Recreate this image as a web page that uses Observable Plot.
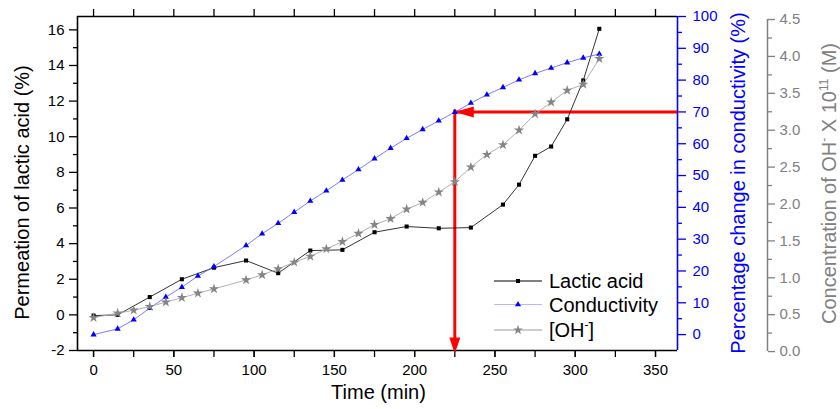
<!DOCTYPE html>
<html><head><meta charset="utf-8">
<script src="https://cdn.jsdelivr.net/npm/d3@7"></script>
<script src="https://cdn.jsdelivr.net/npm/@observablehq/plot@0.6"></script>
<style>
html,body{margin:0;padding:0;background:#fff;}
#chart{width:840px;height:409px;}
</style></head><body><div id="chart"></div>
<script>
// ---- data ----
const lacticTime = [0,15,35,55,75,95,115,135,155,175,195,215,235,255,265,275,285,295,305,315];
const lacticAcid = [-0.04,0,1.0,2.0,2.65,3.05,2.34,3.61,3.65,4.64,4.96,4.86,4.90,6.19,7.31,8.93,9.45,10.98,13.16,16.06];
const obsTime = [0,15,25,35,45,55,65,75,95,105,115,125,135,145,155,165,175,185,195,205,215,225,235,245,255,265,275,285,295,305,315];
const conductivity = [0,1.8,4.65,8.3,11.8,14.9,18.4,21.4,28.0,31.7,35.0,38.5,42.0,45.2,48.6,51.9,55.3,58.6,61.7,64.5,67.2,69.9,72.8,75.4,77.7,80.1,82.1,83.8,85.5,87.0,88.2];
const hydroxide = [0.46,0.52,0.56,0.61,0.67,0.73,0.79,0.85,0.97,1.04,1.12,1.21,1.29,1.39,1.49,1.60,1.72,1.80,1.93,2.02,2.16,2.30,2.50,2.67,2.80,3.00,3.22,3.38,3.54,3.62,3.97];
const xTickLabels = [0,50,100,150,200,250,300,350];
const xAllTicks = [0,25,50,75,100,125,150,175,200,225,250,275,300,325,350];
const leftTicks = [-2,0,2,4,6,8,10,12,14,16];
const leftMinor = [-1,1,3,5,7,9,11,13,15];
const blueTicks = [0,10,20,30,40,50,60,70,80,90,100];
const blueMinor = [5,15,25,35,45,55,65,75,85,95];
const grayTicks = [0,0.5,1,1.5,2,2.5,3,3.5,4,4.5];
const grayMinor = [0.25,0.75,1.25,1.75,2.25,2.75,3.25,3.75,4.25];
const markerTime = 225, markerConductivity = 70;
const legendLabels = ["Lactic acid","Conductivity","[OH"];

// ---- layout ----
const xDomain = [-10, 363.7];
const Y0 = -2, Y1 = 16.75;
const blueScale = d3.scaleLinear().domain([-5, 100]).range([Y0, Y1]);
const grayScale = d3.scaleLinear().domain([0, 4.5]).range([-2.06, 16.58]);
const BLUE = "#0000ff", GRAY = "#808080", RED = "#ff0000";
const FONT = "'Liberation Sans', Arial, sans-serif";

const lactic = lacticTime.map((t, i) => ({t, v: lacticAcid[i]}));
const cond = obsTime.map((t, i) => ({t, v: blueScale(conductivity[i])}));
const oh = obsTime.map((t, i) => ({t, v: grayScale(hydroxide[i])}));
const arrowData = [{t: markerTime, v: blueScale(markerConductivity)}];

const headLeft = {draw(ctx) { ctx.moveTo(0, 0); ctx.lineTo(19, -5.5); ctx.lineTo(19, 5.5); ctx.closePath(); }};
const headDown = {draw(ctx) { ctx.moveTo(0, 0); ctx.lineTo(-5.5, -16); ctx.lineTo(5.5, -16); ctx.closePath(); }};

const plot = Plot.plot({
  width: 840, height: 409,
  marginLeft: 77, marginRight: 163, marginTop: 16, marginBottom: 59,
  style: {fontFamily: FONT, fontSize: "15px", background: "white", color: "black", overflow: "visible"},
  x: {domain: xDomain},
  y: {domain: [Y0, Y1]},
  marks: [
    // bottom axis
    Plot.axisX(xAllTicks, {tickSize: 7, fill: "none", strokeWidth: 1.3, label: null}),
    Plot.axisX(xTickLabels, {tickSize: 7, tickPadding: 7, strokeWidth: 1.3, label: null, tickFormat: d => String(d)}),
    // top inward ticks
    Plot.axisX(xAllTicks, {tickSize: 7, dy: -341, fill: "none", strokeWidth: 1.3, label: null}),
    // left axis
    Plot.axisY(leftTicks, {tickSize: 8, tickPadding: 5, strokeWidth: 1.3, label: null, tickFormat: d => String(d)}),
    Plot.axisY(leftMinor, {tickSize: 4, fill: "none", strokeWidth: 1.3, label: null}),
    // blue right axis
    Plot.axisY(blueTicks.map(blueScale), {anchor: "right", tickSize: 8, tickPadding: 7, color: BLUE, strokeWidth: 1.3, label: null,
      tickFormat: d => String(Math.round(blueScale.invert(d)))}),
    Plot.axisY(blueMinor.map(blueScale), {anchor: "right", tickSize: 4, color: BLUE, fill: "none", strokeWidth: 1.3, label: null}),
    // gray offset axis
    Plot.axisY(grayTicks.map(grayScale), {anchor: "right", dx: 90, tickSize: 7, tickPadding: 5, color: GRAY, strokeWidth: 1.3, label: null,
      tickFormat: d => grayScale.invert(d).toFixed(1)}),
    Plot.axisY(grayMinor.map(grayScale), {anchor: "right", dx: 90, tickSize: 4, color: GRAY, fill: "none", strokeWidth: 1.3, label: null}),
    Plot.ruleX([xDomain[1]], {dx: 90, y1: () => grayScale(0), y2: () => grayScale(4.5), stroke: GRAY, strokeWidth: 1.5}),
    // frame
    Plot.ruleX([xDomain[0]], {stroke: "black", strokeWidth: 1.6}),
    Plot.ruleY([Y0], {stroke: "black", strokeWidth: 1.6}),
    Plot.ruleY([Y1], {stroke: "black", strokeWidth: 1.6}),
    Plot.ruleX([xDomain[1]], {stroke: BLUE, strokeWidth: 1.6}),
    // axis titles
    Plot.text(["Time (min)"], {frameAnchor: "bottom", textAnchor: "middle", dx: 1, dy: 48, fontSize: 20, fill: "black"}),
    Plot.text(["Permeation of lactic acid (%)"], {frameAnchor: "left", textAnchor: "middle", lineAnchor: "middle", rotate: -90, dx: -55, dy: 9, fontSize: 20, fill: "black"}),
    Plot.text(["Percentage change in conductivity (%)"], {frameAnchor: "right", textAnchor: "middle", lineAnchor: "middle", rotate: -90, dx: 61, dy: -0.5, fontSize: 20, fill: BLUE}),
    // red annotation arrows
    Plot.ruleY(arrowData, {y: "v", x1: "t", x2: () => xDomain[1], stroke: RED, strokeWidth: 3}),
    Plot.ruleX(arrowData, {x: "t", y1: "v", y2: () => Y0, dy: -2, stroke: RED, strokeWidth: 3}),
    Plot.dot(arrowData, {x: "t", y: "v", symbol: headLeft, r: 5, fill: RED, stroke: "none"}),
    Plot.dot(arrowData, {x: "t", y: () => Y0, symbol: headDown, r: 5, dy: 3, fill: RED, stroke: "none"}),
    // series
    Plot.line(lactic, {x: "t", y: "v", stroke: "black", strokeWidth: 0.8}),
    Plot.dot(lactic, {x: "t", y: "v", symbol: "square", r: 2.3, fill: "black", stroke: "none"}),
    Plot.line(cond, {x: "t", y: "v", stroke: "#5a5aff", strokeWidth: 0.8}),
    Plot.dot(cond, {x: "t", y: "v", symbol: "triangle", r: 2.3, fill: BLUE, stroke: "none"}),
    Plot.line(oh, {x: "t", y: "v", stroke: "#a8a8a8", strokeWidth: 0.9}),
    Plot.dot(oh, {x: "t", y: "v", symbol: "star", r: 3.2, fill: "#858585", stroke: "none"})
  ]
});
document.getElementById("chart").appendChild(plot);

// ---- gray axis title with superscripts, and legend ----
const svg = d3.select(plot);
const gt = svg.append("text")
  .attr("transform", "translate(836,183.5) rotate(-90)")
  .attr("text-anchor", "middle")
  .attr("font-family", FONT).attr("font-size", 20).attr("fill", GRAY);
gt.append("tspan").text("Concentration of OH");
gt.append("tspan").attr("dy", -8).attr("font-size", 12).text("-");
gt.append("tspan").attr("dy", 8).text(" X 10");
gt.append("tspan").attr("dy", -8).attr("font-size", 12).text("11");
gt.append("tspan").attr("dy", 8).text(" (M)");

const legendRows = [
  {y: 281, stroke: "black", sym: d3.symbolSquare, size: 16.6, fill: "black"},
  {y: 304.5, stroke: "#b8b8ff", sym: d3.symbolTriangle, size: 16.6, fill: BLUE},
  {y: 330, stroke: "#9a9a9a", sym: d3.symbolStar, size: 30, fill: "#858585"}
];
const lg = svg.append("g").attr("font-family", FONT).attr("font-size", 20).attr("text-anchor", "start");
legendRows.forEach((r, i) => {
  lg.append("line").attr("x1", 494).attr("x2", 542).attr("y1", r.y).attr("y2", r.y)
    .attr("stroke", r.stroke).attr("stroke-width", 1);
  lg.append("path").attr("d", d3.symbol(r.sym, r.size)()).attr("transform", `translate(518,${r.y})`).attr("fill", r.fill);
  const t = lg.append("text").attr("x", 549).attr("y", r.y).attr("dy", "0.35em").attr("fill", "black").attr("text-anchor", "start");
  t.append("tspan").text(legendLabels[i]);
  if (i === 2) {
    t.append("tspan").attr("dy", -8).attr("font-size", 12).text("-");
    t.append("tspan").attr("dy", 8).text("]");
  }
});
</script>
</body></html>
